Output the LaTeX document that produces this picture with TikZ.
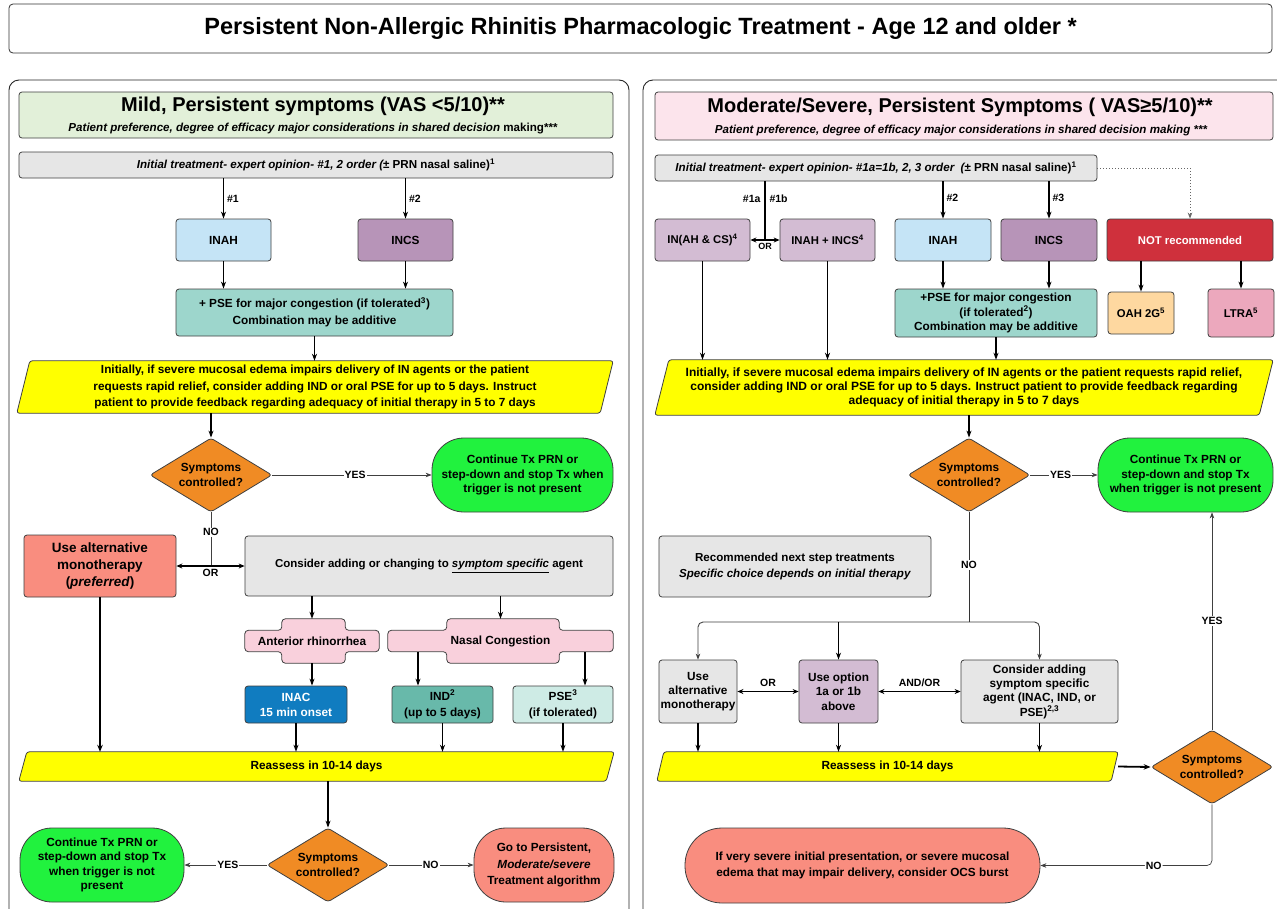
\documentclass[tikz,border=0pt]{standalone}
\usepackage{fontspec}
\setmainfont{Liberation Sans}
\usetikzlibrary{shapes.geometric,arrows.meta,calc,backgrounds}
\definecolor{bordc}{RGB}{64,64,64}
\definecolor{grayc}{RGB}{230,230,230}
\definecolor{lgreen}{RGB}{226,240,217}
\definecolor{lpink}{RGB}{252,228,236}
\definecolor{inahc}{RGB}{197,228,246}
\definecolor{incsc}{RGB}{183,148,184}
\definecolor{lpurp}{RGB}{211,188,211}
\definecolor{tealc}{RGB}{157,214,204}
\definecolor{pinkc}{RGB}{249,208,220}
\definecolor{inacc}{RGB}{16,124,192}
\definecolor{indc}{RGB}{104,185,170}
\definecolor{psec}{RGB}{206,235,229}
\definecolor{notrc}{RGB}{207,48,60}
\definecolor{oahc}{RGB}{254,216,160}
\definecolor{ltrac}{RGB}{236,168,189}
\definecolor{grnc}{RGB}{33,242,62}
\definecolor{orngc}{RGB}{240,139,36}
\definecolor{salmc}{RGB}{249,141,127}
\definecolor{ylwc}{RGB}{255,255,0}
\newcommand\myfs[2]{\fontsize{#1}{#2}\selectfont}
\newcommand\mypara[2]{\begin{scope}[on background layer]\draw[fill=ylwc, draw=bordc, line width=0.8pt, rounded corners=2.5pt] ($(#1.north west)+(#2,0)$) -- (#1.north east) -- ($(#1.south east)+(-#2,0)$) -- (#1.south west) -- cycle;\end{scope}}
\newcommand\mycross[3]{\begin{scope}[on background layer]\draw[fill=pinkc, draw=bordc, line width=0.8pt, rounded corners=3.5pt]
 ($(#1.north west)+(0,11.5)$) -- ($(#1.north west)+(#2,11.5)$) -- ($(#1.north west)+(#2,0)$) -- ($(#1.north east)+(-#3,0)$) -- ($(#1.north east)+(-#3,11.5)$) -- ($(#1.north east)+(0,11.5)$) -- ($(#1.south east)+(0,-11.5)$) -- ($(#1.south east)+(-#3,-11.5)$) -- ($(#1.south east)+(-#3,0)$) -- ($(#1.south west)+(#2,0)$) -- ($(#1.south west)+(#2,-11.5)$) -- ($(#1.south west)+(0,-11.5)$) -- cycle;\end{scope}}
\tikzset{
 bx/.style={draw=bordc, line width=0.8pt, rounded corners=3pt, align=center, inner sep=1pt, text=black},
 fa/.style={font=\bfseries\myfs{11.8}{14.3}},
 fb/.style={font=\bfseries\myfs{11.8}{16.7}},
 tnode/.style={inner sep=0pt, align=center},
 arr/.style={-{Stealth[length=7pt,width=5pt]}, line width=1.1pt, draw=black},
 tarr/.style={-{Stealth[length=7pt,width=5.5pt]}, line width=1.8pt, draw=black},
 darr/.style={{Stealth[length=6pt,width=5pt]}-{Stealth[length=6pt,width=5pt]}, line width=1.5pt, draw=black},
 thinarr/.style={-{Stealth[length=6pt,width=4.5pt]}, line width=0.7pt, draw=black!75},
 lbl/.style={font=\bfseries\myfs{10.5}{12}, inner sep=1pt},
 lblw/.style={lbl, fill=white},
 dia/.style={diamond, aspect=1.65, draw=bordc, line width=0.8pt, rounded corners=3pt, fill=orngc, minimum width=122pt, minimum height=74pt, inner sep=0pt, align=center, font=\bfseries\myfs{11.8}{14.3}},
}
\begin{document}
\begin{tikzpicture}[x=1pt,y=-1pt]
\useasboundingbox (0,0) rectangle (1277,908);
\begin{scope}[on background layer]\fill[white] (0,0) rectangle (1277,908);\end{scope}
% title
\node[draw=black!80, line width=0.8pt, rounded corners=4pt, minimum width=1263pt, minimum height=49pt, font=\bfseries\myfs{23.5}{26}] (title) at (640.5,28.5) {Persistent Non-Allergic Rhinitis Pharmacologic Treatment - Age 12 and older *};
% panels
\draw[line width=0.9pt, rounded corners=10pt, draw=black!85] (9,80) rectangle (629,925);
\draw[line width=0.9pt, rounded corners=10pt, draw=black!85] (643,80) rectangle (1295,925);

% ================= LEFT =================
\node[bx, fill=lgreen, minimum width=594pt, minimum height=46pt] (Lhead) at (316,115) {};
\node[tnode, font=\bfseries\myfs{20}{22}] (LheadT) at (313,106) {Mild, Persistent symptoms (VAS <5/10)**};
\node[tnode, font=\bfseries\itshape\myfs{11.6}{13}] (LheadS) at (313,128.5) {Patient preference, degree of efficacy major considerations in shared decision \upshape making***};
\node[bx, fill=grayc, minimum width=594pt, minimum height=26pt, font=\bfseries\myfs{11.6}{13}] (Lgray) at (316,165) {\itshape Initial treatment- expert opinion- \#1, 2 order (\upshape{}± PRN nasal saline)\textsuperscript{1}};
\node[bx, fill=inahc, minimum width=95pt, minimum height=42pt, fa] (LINAH) at (223.5,240) {INAH};
\node[bx, fill=incsc, minimum width=95pt, minimum height=42pt, fa] (LINCS) at (405.5,240) {INCS};
\draw[arr] (LINAH.north |- Lgray.south) -- node[lbl, right=2pt, pos=0.5]{\#1} (LINAH.north);
\draw[arr] (LINCS.north |- Lgray.south) -- node[lbl, right=2pt, pos=0.5]{\#2} (LINCS.north);
\node[bx, fill=tealc, minimum width=277pt, minimum height=47pt, fb] (Lteal) at (314.5,312.5) {+ PSE for major congestion (if tolerated\textsuperscript{3})\\Combination may be additive};
\draw[arr] (LINAH.south) -- (LINAH.south |- Lteal.north);
\draw[arr] (LINCS.south) -- (LINCS.south |- Lteal.north);
\node[tnode, minimum width=596pt, minimum height=52pt, fb] (Ly1) at (315,387) {Initially, if severe mucosal edema impairs delivery of IN agents or the patient\\requests rapid relief, consider adding IND or oral PSE for up to 5 days. Instruct\\patient to provide feedback regarding adequacy of initial therapy in 5 to 7 days};
\mypara{Ly1}{13}
\draw[arr] (Lteal.south) -- (Lteal.south |- Ly1.north);
\node[dia] (LD1) at (211,475) {Symptoms\\controlled?};
\draw[arr] (LD1.north |- Ly1.south) -- (LD1.north);
\node[bx, fill=grnc, rounded corners=32pt, minimum width=181pt, minimum height=74pt, fa] (LG1) at (522.5,475) {Continue Tx PRN or\\step-down and stop Tx when\\trigger is not present};
\draw[thinarr] (LD1.east) -- node[lblw, pos=0.52]{YES} (LG1.west);
\node[bx, fill=salmc, minimum width=152pt, minimum height=62pt, font=\bfseries\myfs{13.5}{16.7}] (LR1) at (100,566) {Use alternative\\monotherapy\\(\textit{preferred})};
\node[bx, fill=grayc, minimum width=368pt, minimum height=60pt, font=\bfseries\myfs{11.5}{14}] (LC1) at (429,566) {Consider adding or changing to \underline{\textit{symptom specific}} agent};
\draw[line width=0.7pt, draw=black!75] (LD1.south) -- node[lblw, pos=0.37]{NO} (LD1.south |- LC1.west);
\draw[darr] (LR1.east) -- node[lbl, below=1pt]{OR} (LC1.west);
\node[tnode, minimum width=134pt, minimum height=44pt, fa] (LAR) at (312,641) {Anterior rhinorrhea};
\mycross{LAR}{37}{34}
\node[tnode, minimum width=225pt, minimum height=44pt, fa] (LNC) at (500.5,641) {Nasal Congestion};
\mycross{LNC}{59}{54}
\draw[arr] (LAR.north |- LC1.south) -- (LAR.north);
\draw[arr] (LNC.north |- LC1.south) -- (LNC.north);
\node[bx, fill=inacc, text=white, minimum width=102pt, minimum height=37pt, font=\bfseries\myfs{11.8}{15}] (LINAC) at (296,704.5) {INAC\\15 min onset};
\node[bx, fill=indc, minimum width=101pt, minimum height=37pt, font=\bfseries\myfs{11.8}{16.5}] (LIND) at (442.5,704.5) {IND\textsuperscript{2}\\(up to 5 days)};
\node[bx, fill=psec, minimum width=100pt, minimum height=37pt, font=\bfseries\myfs{11.8}{16.5}] (LPSE) at (563,704.5) {PSE\textsuperscript{3}\\(if tolerated)};
\draw[arr] (LAR.south) -- (LAR.south |- LINAC.north);
\coordinate (LNCb) at ([yshift=11pt]LNC.south);
\coordinate (a1) at ([xshift=-24.5pt]LIND.north);
\coordinate (a2) at ([xshift=22pt]LPSE.north);
\draw[arr] (a1 |- LNCb) -- (a1);
\draw[arr] (a2 |- LNCb) -- (a2);
\node[tnode, minimum width=595pt, minimum height=29pt, fa] (LRe) at (316.5,766.5) {Reassess in 10-14 days};
\mypara{LRe}{8}
\draw[arr] (LINAC.south) -- (LINAC.south |- LRe.north);
\draw[arr] (LIND.south) -- (LIND.south |- LRe.north);
\draw[arr] (LPSE.south) -- (LPSE.south |- LRe.north);
\draw[tarr] (LR1.south) -- (LR1.south |- LRe.north);
\node[dia] (LD2) at (328,865) {Symptoms\\controlled?};
\draw[arr] (LD2.north |- LRe.south) -- (LD2.north);
\node[bx, fill=grnc, rounded corners=32pt, minimum width=164pt, minimum height=74pt, font=\bfseries\myfs{11.8}{14.3}] (LG2) at (102,865) {Continue Tx PRN or\\step-down and stop Tx\\when trigger is not\\present};
\node[bx, fill=salmc, rounded corners=32pt, minimum width=140pt, minimum height=74pt, font=\bfseries\myfs{11.8}{16.5}] (LR2) at (544,865) {Go to Persistent,\\\textit{Moderate/severe}\\Treatment algorithm};
\draw[thinarr] (LD2.west) -- node[lblw, pos=0.47]{YES} (LG2.east);
\draw[thinarr] (LD2.east) -- node[lblw, pos=0.49]{NO} (LR2.west);

% ================= RIGHT =================
\node[bx, fill=lpink, minimum width=618pt, minimum height=48pt] (Rhead) at (964,116) {};
\node[tnode, font=\bfseries\myfs{20}{22}] (RheadT) at (960,107) {Moderate/Severe, Persistent Symptoms ( VAS≥5/10)**};
\node[tnode, font=\bfseries\itshape\myfs{11.6}{13}] (RheadS) at (961,130.5) {Patient preference, degree of efficacy major considerations in shared decision making ***};
\node[bx, fill=grayc, minimum width=442pt, minimum height=26pt, font=\bfseries\myfs{11.6}{13}] (RG) at (876,168) {\itshape Initial treatment- expert opinion- \#1a=1b, 2, 3 order\ \ (\upshape{}± PRN nasal saline)\textsuperscript{1}};
\node[bx, fill=lpurp, minimum width=95pt, minimum height=42pt, font=\bfseries\myfs{11.3}{14}] (RINACS) at (702.5,240) {IN(AH \& CS)\textsuperscript{4}};
\node[bx, fill=lpurp, minimum width=95pt, minimum height=42pt, font=\bfseries\myfs{11.3}{14}] (RINAHINCS) at (827.5,240) {INAH + INCS\textsuperscript{4}};
\coordinate (ORm) at ($(RINACS.east)!0.5!(RINAHINCS.west)$);
\draw[line width=1.1pt] (ORm |- RG.south) -- node[lbl, left=3pt, pos=0.3]{\#1a} node[lbl, right=3pt, pos=0.3]{\#1b} (ORm);
\draw[darr, line width=1.2pt] (RINACS.east) -- (RINAHINCS.west);
\node[lbl, font=\bfseries\myfs{9}{10}, below=2pt] (ORlab) at (ORm) {OR};
\node[bx, fill=inahc, minimum width=96pt, minimum height=42pt, fa] (RINAH) at (943,240) {INAH};
\node[bx, fill=incsc, minimum width=96pt, minimum height=42pt, fa] (RINCS) at (1049,240) {INCS};
\draw[arr] (RINAH.north |- RG.south) -- node[lbl, right=2pt, pos=0.45]{\#2} (RINAH.north);
\draw[arr] (RINCS.north |- RG.south) -- node[lbl, right=2pt, pos=0.45]{\#3} (RINCS.north);
\node[bx, fill=notrc, text=white, minimum width=166pt, minimum height=42pt, font=\bfseries\myfs{11.3}{14}] (NOTR) at (1190,240) {NOT recommended};
\draw[dotted, line width=1pt, draw=black!60, -{Stealth[length=6pt,width=4.5pt]}] (RG.east) -| (NOTR.north);
\node[bx, fill=oahc, minimum width=66pt, minimum height=42pt, font=\bfseries\myfs{11.3}{14}] (OAH) at (1141,313) {OAH 2G\textsuperscript{5}};
\node[bx, fill=ltrac, minimum width=66pt, minimum height=48pt, font=\bfseries\myfs{11.3}{14}] (LTRA) at (1241,313) {LTRA\textsuperscript{5}};
\draw[arr] (OAH.north |- NOTR.south) -- (OAH.north);
\draw[arr] (LTRA.north |- NOTR.south) -- (LTRA.north);
\node[bx, fill=tealc, minimum width=202pt, minimum height=48pt, fa] (Rteal) at (996,313) {+PSE for major congestion\\(if tolerated\textsuperscript{2})\\Combination may be additive};
\draw[arr] (RINAH.south) -- (RINAH.south |- Rteal.north);
\draw[arr] (RINCS.south) -- (RINCS.south |- Rteal.north);
\node[tnode, minimum width=618pt, minimum height=55pt, font=\bfseries\myfs{12}{14.3}] (Ry1) at (964,387.5) {Initially, if severe mucosal edema impairs delivery of IN agents or the patient requests rapid relief,\\consider adding IND or oral PSE for up to 5 days. Instruct patient to provide feedback regarding\\adequacy of initial therapy in 5 to 7 days};
\mypara{Ry1}{14}
\draw[arr] (RINACS.south) -- (RINACS.south |- Ry1.north);
\draw[arr] (RINAHINCS.south) -- (RINAHINCS.south |- Ry1.north);
\draw[arr] (Rteal.south) -- (Rteal.south |- Ry1.north);
\node[dia] (RD3) at (969,475) {Symptoms\\controlled?};
\draw[arr] (RD3.north |- Ry1.south) -- (RD3.north);
\node[bx, fill=grnc, rounded corners=32pt, minimum width=175pt, minimum height=74pt, fa] (RG3) at (1185.5,475) {Continue Tx PRN or\\step-down and stop Tx\\when trigger is not present};
\draw[thinarr] (RD3.east) -- node[lblw, pos=0.45]{YES} (RG3.west);
\node[bx, fill=grayc, minimum width=272pt, minimum height=61pt, font=\bfseries\myfs{11.6}{16.5}] (RNEXT) at (795,566.5) {Recommended next step treatments\\\textit{Specific choice depends on initial therapy}};
\coordinate (SP) at (969,622);
\draw[line width=0.8pt, draw=black!80] (RD3.south) -- node[lblw, pos=0.48]{NO} (SP);
\node[bx, fill=grayc, minimum width=78pt, minimum height=63pt, fa] (UALT) at (698,691.5) {Use\\alternative\\monotherapy};
\node[bx, fill=lpurp, minimum width=79pt, minimum height=63pt, fa] (UOPT) at (838.5,691.5) {Use option\\1a or 1b\\above};
\node[bx, fill=grayc, minimum width=157pt, minimum height=63pt, fa] (CADD) at (1039.5,691.5) {Consider adding\\symptom specific\\agent (INAC, IND, or\\PSE)\textsuperscript{2,3}};
\draw[thinarr, line width=0.9pt, rounded corners=5pt] (SP) -| (UALT.north);
\draw[thinarr, line width=0.9pt, rounded corners=5pt] (SP) -| (CADD.north);
\draw[arr, line width=1.5pt] (UOPT.north |- SP) -- (UOPT.north);
\draw[darr, line width=1.2pt] (UALT.east) -- node[lbl, above=3pt]{OR} (UOPT.west);
\draw[darr, line width=1.2pt] (UOPT.east) -- node[lbl, above=3pt]{AND/OR} (CADD.west);
\node[tnode, minimum width=461pt, minimum height=29pt, fa] (RRe) at (887.5,766.5) {Reassess in 10-14 days};
\mypara{RRe}{7}
\draw[arr] (UALT.south) -- (UALT.south |- RRe.north);
\draw[arr] (UOPT.south) -- (UOPT.south |- RRe.north);
\draw[arr] (CADD.south) -- (CADD.south |- RRe.north);
\node[dia] (RD4) at (1212,767) {Symptoms\\controlled?};
\draw[tarr] (RRe.east) -- (RD4.west);
\draw[thinarr] (RD4.north) -- node[lblw, pos=0.5]{YES} (RD4.north |- RG3.south);
\node[bx, fill=salmc, rounded corners=37pt, minimum width=355pt, minimum height=75pt, font=\bfseries\myfs{11.8}{16}] (OCS) at (862.5,865.5) {If very severe initial presentation, or severe mucosal\\edema that may impair delivery, consider OCS burst};
\draw[thinarr, rounded corners=5pt] (RD4.south) |- node[lblw, pos=0.67]{NO} (OCS.east);
\end{tikzpicture}
\end{document}
